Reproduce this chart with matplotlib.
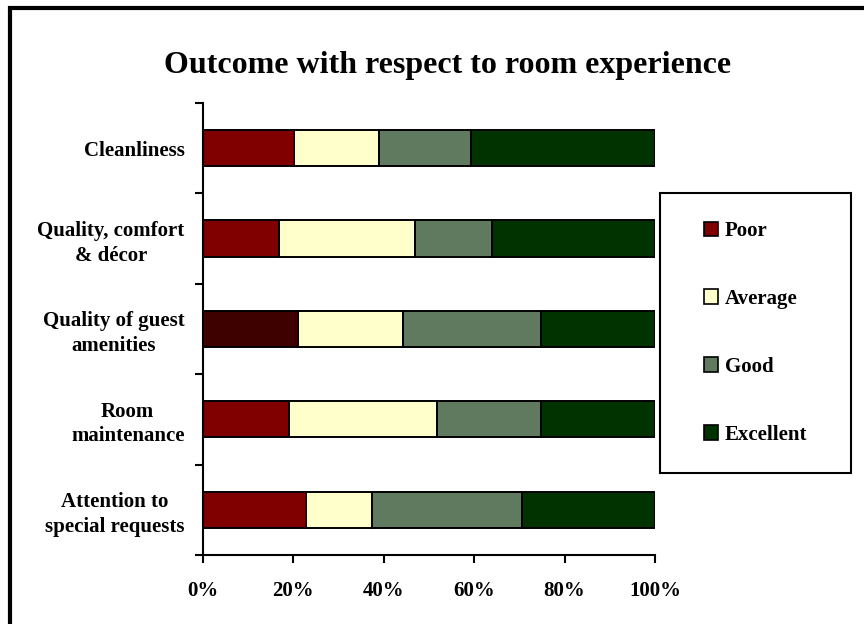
import numpy as np
import matplotlib
matplotlib.use("Agg")
import matplotlib.pyplot as plt
import matplotlib.patches as mpatches

plt.rcParams['font.family'] = ['Liberation Serif', 'DejaVu Serif']
plt.rcParams['font.weight'] = 'bold'

# data (percent of responses), top to bottom
categories = ["Cleanliness", "Quality, comfort\n& décor", "Quality of guest\namenities",
              "Room\nmaintenance", "Attention to\nspecial requests"]
poor = [20.3, 16.9, 21.2, 19.2, 22.9]
average = [18.6, 30.1, 23.0, 32.7, 14.6]
good = [20.4, 17.0, 30.7, 23.0, 33.2]
excellent = [40.7, 36.0, 25.1, 25.1, 29.3]
series_names = ["Poor", "Average", "Good", "Excellent"]
series_colors = ["#800000", "#FFFFCC", "#607A60", "#003300"]
poor_colors = ["#800000", "#800000", "#3F0000", "#800000", "#800000"]

fig = plt.figure(figsize=(8.64, 6.24), dpi=100)
ax = fig.add_axes([0.2344, 0.1106, 0.5237, 0.7244])

y = np.arange(len(categories))
series = [poor, average, good, excellent]
left = np.zeros(len(categories))
for i, vals in enumerate(series):
	vals = np.array(vals) / 100.0
	col = poor_colors if i == 0 else series_colors[i]
	ax.barh(y, vals, left=left, height=0.4, color=col, edgecolor='black', linewidth=1.4)
	left += vals

ax.set_xlim(0, 1)
ax.set_ylim(len(categories) - 0.5, -0.5)
ax.set_xticks(np.linspace(0, 1, 6))
ax.set_xticklabels(["0%", "20%", "40%", "60%", "80%", "100%"], fontsize=15, fontweight='bold')
ax.set_yticks(y)
ax.set_yticklabels(categories, fontsize=15, fontweight='bold', multialignment='center',
                   linespacing=1.3)
ax.set_yticks(np.arange(len(categories) + 1) - 0.5, minor=True)
ax.tick_params(axis='y', which='major', length=0, pad=13)
ax.tick_params(axis='y', which='minor', length=6, width=1.5, direction='out')
ax.tick_params(axis='x', which='major', length=6, width=1.5, direction='out', pad=13)
for s in ['top', 'right']:
	ax.spines[s].set_visible(False)
for s in ['left', 'bottom']:
	ax.spines[s].set_linewidth(1.5)

fig.text(448 / 864, 1 - 66 / 624, "Outcome with respect to room experience",
         ha='center', va='center', fontsize=23, fontweight='bold')

# legend
handles = [mpatches.Patch(facecolor=c, edgecolor='black', linewidth=1.2) for c in series_colors]
fig.legend(handles, series_names, loc='center', bbox_to_anchor=(755.5 / 864, 1 - 333 / 624),
           frameon=False, prop={'size': 15, 'weight': 'bold'}, handlelength=0.7, handleheight=0.7,
           handletextpad=0.3, labelspacing=2.3)
fig.patches.append(mpatches.Rectangle((660 / 864, 1 - 473 / 624), 191 / 864, 280 / 624,
                                      transform=fig.transFigure, fill=False,
                                      edgecolor='black', linewidth=1.5))

# outer frame
fig.patches.append(mpatches.Rectangle((10 / 864, -0.1), 1.2, 1.1 - 8 / 624,
                                      transform=fig.transFigure, fill=False,
                                      edgecolor='black', linewidth=3))

fig.savefig("out.png", dpi=100)
